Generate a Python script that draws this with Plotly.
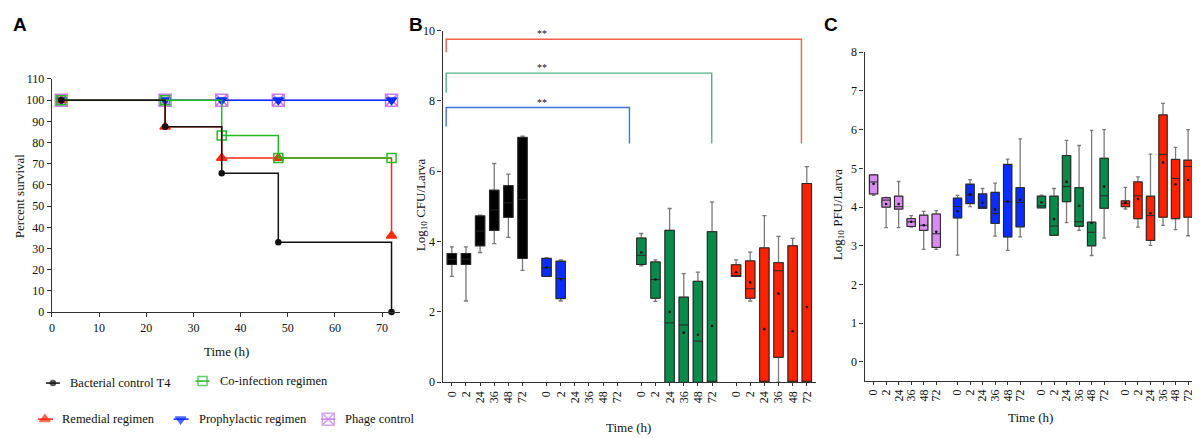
import plotly.graph_objects as go

# ---------------- Panel A : survival data ----------------
time_pts = [2, 24, 36, 48, 72]
surv_bacterial = [100, 87.5, 65.5, 33, 0]
surv_remedial = [100, 87.5, 72.7, 72.7, 36]
surv_coinfection = [100, 100, 83.3, 72.7, 72.7]
surv_prophylactic = [100, 100, 100, 100, 100]
surv_phage = [100, 100, 100, 100, 100]

legend_names = ["Bacterial control T4", "Co-infection regimen", "Remedial regimen",
                "Prophylactic regimen", "Phage control"]

# ---------------- Panel B / C tick labels ----------------
time_labels = ["0", "2", "24", "36", "48", "72"]

# ---------------- Panel B : Log10 CFU/Larva ----------------
b_black_q1 = [3.35, 3.35, 3.88, 4.32, 4.69, 3.52]
b_black_med = [3.50, 3.50, 4.30, 4.90, 5.10, 5.20]
b_black_q3 = [3.66, 3.66, 4.73, 5.46, 5.59, 6.96]
b_black_lo = [3.01, 2.31, 3.69, 3.94, 4.12, 3.18]
b_black_hi = [3.85, 3.85, 4.75, 6.22, 5.92, 7.00]

b_blue_times = [0, 1]
b_blue_q1 = [3.01, 2.38]
b_blue_med = [3.26, 2.95]
b_blue_q3 = [3.52, 3.44]
b_blue_lo = [3.01, 2.31]
b_blue_hi = [3.54, 3.48]
b_blue_mean = [3.26, 2.93]

b_green_q1 = [3.35, 2.39, 0, 0, 0, 0]
b_green_med = [3.61, 2.92, 1.69, 1.63, 1.17, 0]
b_green_q3 = [4.10, 3.42, 4.32, 2.42, 2.87, 4.28]
b_green_lo = [3.31, 2.30, 0, 0, 0, 0]
b_green_hi = [4.23, 3.48, 4.94, 3.09, 3.13, 5.13]
b_green_mean = [3.69, 2.92, 2.00, 1.41, 1.35, 1.60]

b_red_q1 = [3.01, 2.39, 0, 0.71, 0, 0]
b_red_med = [3.02, 2.66, 0, 3.17, 0, 0]
b_red_q3 = [3.34, 3.45, 3.82, 3.40, 3.88, 5.65]
b_red_lo = [3.01, 2.31, 0, 0, 0, 0]
b_red_hi = [3.48, 3.70, 4.74, 4.15, 4.09, 6.13]
b_red_mean = [3.13, 2.84, 1.51, 2.52, 1.45, 2.14]

# significance brackets (left x, right x, top y, left-leg bottom, right-leg bottom)
sig_left_x = [-0.40, -0.40, -0.40]
sig_right_x = [12.56, 18.38, 24.72]
sig_top_y = [7.81, 8.79, 9.75]
sig_left_bottom = [7.27, 8.23, 9.38]
sig_right_bottom = [6.79, 6.79, 6.79]
sig_label = ["**", "**", "**"]
sig_label_x = 6.41

# ---------------- Panel C : Log10 PFU/Larva ----------------
c_purple_q1 = [4.34, 4.00, 3.95, 3.50, 3.40, 2.96]
c_purple_med = [4.65, 4.18, 4.01, 3.62, 3.53, 3.31]
c_purple_q3 = [4.83, 4.24, 4.28, 3.70, 3.79, 3.82]
c_purple_lo = [4.30, 3.47, 3.47, 3.48, 2.91, 2.91]
c_purple_hi = [4.84, 4.25, 4.66, 3.78, 3.89, 3.91]
c_purple_mean = [4.60, 4.08, 4.08, 3.62, 3.53, 3.36]

c_blue_q1 = [3.72, 4.09, 3.97, 3.58, 3.23, 3.49]
c_blue_med = [4.01, 4.31, 3.98, 3.83, 4.14, 4.12]
c_blue_q3 = [4.23, 4.59, 4.34, 4.38, 5.10, 4.50]
c_blue_lo = [2.76, 4.01, 3.97, 3.25, 2.88, 3.23]
c_blue_hi = [4.30, 4.71, 4.48, 4.62, 5.24, 5.76]
c_blue_mean = [3.89, 4.33, 4.11, 3.94, 4.14, 4.19]

c_green_q1 = [3.98, 3.27, 4.14, 3.50, 3.00, 3.97]
c_green_med = [4.03, 3.51, 4.53, 3.62, 3.35, 4.29]
c_green_q3 = [4.28, 4.28, 5.33, 4.50, 3.61, 5.26]
c_green_lo = [3.98, 3.27, 3.60, 3.40, 2.75, 3.20]
c_green_hi = [4.31, 4.48, 5.72, 5.59, 5.98, 6.00]
c_green_mean = [4.12, 3.69, 4.65, 4.03, 3.59, 4.53]

c_red_q1 = [4.01, 3.70, 3.14, 3.74, 3.70, 3.74]
c_red_med = [4.09, 4.29, 3.78, 5.36, 4.74, 5.05]
c_red_q3 = [4.16, 4.65, 4.28, 6.38, 5.23, 5.21]
c_red_lo = [3.95, 3.48, 3.01, 3.53, 3.42, 3.26]
c_red_hi = [4.51, 4.78, 5.37, 6.68, 5.54, 6.00]
c_red_mean = [4.12, 4.21, 3.84, 5.15, 4.59, 4.70]

# ---------------- page geometry ----------------
# figure sits 8px from the page's left edge; vertically it appears from ~15px, scaled ~0.966
FW, FH = 1200, 438
X_OFF = 8
Y_OFF, Y_SCALE = 15.2, 0.966


def fig_y(py):
    return (py - Y_OFF) / Y_SCALE


def PX(px):
    return (px - X_OFF) / FW


def PY(py):
    return 1 - fig_y(py) / FH


# ---------------- styling ----------------
SERIF = "Liberation Serif"
SANS = "Liberation Sans"
C_BLACK = "#000000"
C_BLUE = "#0A2CFF"
C_GREEN_A = "#22BB22"
C_GREEN = "#078A4A"
C_RED = "#FF2200"
C_RED_A = "#FF2A10"
C_PURPLE = "#DA8BF0"
C_PURPLE_A = "#C77DE8"
BRACKET_COLORS = ["#4A6FE3", "#52B08A", "#F0604A"]
GROUP_OFFSET = 6.7
BOX_W = 0.66

fig = go.Figure()


def positions(group, idxs=range(6)):
    return [group * GROUP_OFFSET + i for i in idxs]


def add_boxes(ax, pos, q1, med, q3, lo, hi, fill, mean=None):
    xa, ya = ax
    fig.add_trace(go.Box(x=pos, q1=q1, median=med, q3=q3, lowerfence=lo, upperfence=hi,
                         orientation="v",
                         fillcolor=fill, line=dict(color="#7a7a7a", width=1.3),
                         whiskerwidth=0.45, width=BOX_W, boxpoints=False,
                         xaxis=xa, yaxis=ya, showlegend=False, hoverinfo="skip"))
    fig.add_trace(go.Box(x=pos, q1=q1, median=med, q3=q3, lowerfence=q1, upperfence=q3,
                         orientation="v",
                         fillcolor=fill, line=dict(color="#262626", width=1.0),
                         whiskerwidth=0, width=BOX_W, boxpoints=False,
                         xaxis=xa, yaxis=ya, showlegend=False, hoverinfo="skip"))
    if mean is not None:
        fig.add_trace(go.Scatter(x=pos, y=mean, mode="markers",
                                 marker=dict(size=2.6, color="#111111"),
                                 xaxis=xa, yaxis=ya, showlegend=False, hoverinfo="skip"))


# ---------------- Panel A traces ----------------
surv_series = [
    (surv_phage, C_PURPLE_A, "square-x-open", 12, 1.2),
    (surv_prophylactic, C_BLUE, "triangle-down", 9, 1.5),
    (surv_remedial, C_RED_A, "triangle-up", 9, 1.5),
    (surv_coinfection, C_GREEN_A, "square-open", 9, 1.5),
    (surv_bacterial, "#111111", "circle", 5, 1.5),
]
for ys, col, sym, sz, lw in surv_series:
    fig.add_trace(go.Scatter(x=time_pts, y=ys, mode="lines+markers", line_shape="hv",
                             line=dict(color=col, width=lw),
                             marker=dict(symbol=sym, size=sz, color=col,
                                         line=dict(color=col, width=1.5)),
                             xaxis="x", yaxis="y", showlegend=False, cliponaxis=False))

# ---------------- Panel B traces ----------------
axB = ("x2", "y2")
add_boxes(axB, positions(0), b_black_q1, b_black_med, b_black_q3, b_black_lo, b_black_hi, C_BLACK)
add_boxes(axB, positions(1, b_blue_times), b_blue_q1, b_blue_med, b_blue_q3, b_blue_lo, b_blue_hi,
          C_BLUE, b_blue_mean)
add_boxes(axB, positions(2), b_green_q1, b_green_med, b_green_q3, b_green_lo, b_green_hi,
          C_GREEN, b_green_mean)
add_boxes(axB, positions(3), b_red_q1, b_red_med, b_red_q3, b_red_lo, b_red_hi,
          C_RED, b_red_mean)

# ---------------- Panel C traces ----------------
axC = ("x3", "y3")
add_boxes(axC, positions(0), c_purple_q1, c_purple_med, c_purple_q3, c_purple_lo, c_purple_hi,
          C_PURPLE, c_purple_mean)
add_boxes(axC, positions(1), c_blue_q1, c_blue_med, c_blue_q3, c_blue_lo, c_blue_hi,
          C_BLUE, c_blue_mean)
add_boxes(axC, positions(2), c_green_q1, c_green_med, c_green_q3, c_green_lo, c_green_hi,
          C_GREEN, c_green_mean)
add_boxes(axC, positions(3), c_red_q1, c_red_med, c_red_q3, c_red_lo, c_red_hi,
          C_RED, c_red_mean)

# ---------------- custom legend for panel A ----------------
legend_layout = [  # (line x0, marker x, line x1, y, text x) in picture pixels
    (43, 50, 57, 382.5, 65),
    (193, 200, 207, 380.5, 216),
    (35, 42, 50, 418.5, 57),
    (171, 178, 186, 418.5, 194),
    (319, 326, 333, 418.5, 341),
]
legend_style = [
    ("#111111", "circle", 5),
    (C_GREEN_A, "square-open", 9),
    (C_RED_A, "triangle-up", 9),
    (C_BLUE, "triangle-down", 9),
    (C_PURPLE_A, "square-x-open", 12),
]
annotations = []
for name, (x0, xm, x1, yy, tx), (col, sym, sz) in zip(legend_names, legend_layout, legend_style):
    fig.add_trace(go.Scatter(x=[PX(x0), PX(xm), PX(x1)], y=[PY(yy)] * 3, mode="lines+markers",
                             line=dict(color=col, width=1.5),
                             marker=dict(symbol=sym, size=[0, sz, 0], color=col,
                                         line=dict(color=col, width=1.5)),
                             xaxis="x4", yaxis="y4", showlegend=False, hoverinfo="skip",
                             cliponaxis=False))
    annotations.append(dict(x=PX(tx), y=PY(yy), xref="paper", yref="paper", text=name,
                            showarrow=False, xanchor="left", yanchor="middle",
                            font=dict(family=SERIF, size=12.5, color="#111")))

# ---------------- brackets in panel B ----------------
shapes = []
for lx, rx, ty, lb, rb, col in zip(sig_left_x, sig_right_x, sig_top_y, sig_left_bottom,
                                   sig_right_bottom, BRACKET_COLORS):
    shapes.append(dict(type="path", xref="x2", yref="y2",
                       path=f"M {lx},{lb} L {lx},{ty} L {rx},{ty} L {rx},{rb}",
                       line=dict(color=col, width=1.4)))
for ty, lab in zip(sig_top_y, sig_label):
    annotations.append(dict(x=sig_label_x, y=ty, xref="x2", yref="y2", text=lab,
                            showarrow=False, yanchor="bottom", yshift=-2,
                            font=dict(family=SERIF, size=10, color="#111")))

# panel letters (placed at the very top of the figure)
for letter, px in [("A", 8.5), ("B", 405), ("C", 821)]:
    annotations.append(dict(x=PX(px), y=1.0, xref="paper", yref="paper", text=f"<b>{letter}</b>",
                            showarrow=False, xanchor="left", yanchor="top", yshift=3,
                            font=dict(family=SANS, size=19, color="#000")))

# axis titles
axis_titles = [
    ("Percent survival", 16, 195, -90),
    ("Time (h)", 224, 351, 0),
    ("Log<sub>10</sub> CFU/Larva", 419, 204, -90),
    ("Time (h)", 627, 427, 0),
    ("Log<sub>10</sub> PFU/Larva", 837, 214, -90),
    ("Time (h)", 1030, 417, 0),
]
for txt, px, py, ang in axis_titles:
    annotations.append(dict(x=PX(px), y=PY(py), xref="paper", yref="paper", text=txt,
                            showarrow=False, xanchor="center", yanchor="middle", textangle=ang,
                            font=dict(family=SERIF, size=13, color="#111")))

axis_common = dict(showline=True, linecolor="#333333", linewidth=1.3, ticks="outside",
                   ticklen=4, tickwidth=1.2, tickcolor="#333333", showgrid=False,
                   zeroline=False, tickfont=dict(family=SERIF, size=12, color="#111"))

ticks_bc = [g * GROUP_OFFSET + i for g in range(4) for i in range(6)]
labels_bc = time_labels * 4
last_tick = 3 * GROUP_OFFSET + 5

fig.update_layout(
    width=FW, height=FH, margin=dict(l=0, r=0, t=0, b=0), autosize=False,
    font=dict(family=SERIF, size=12, color="#111"),
    paper_bgcolor="white", plot_bgcolor="rgba(0,0,0,0)", showlegend=False,
    xaxis=dict(domain=[PX(49), PX(398)], range=[0, 73.8], anchor="y",
               tickvals=list(range(0, 71, 10)), **axis_common),
    yaxis=dict(domain=[PY(311.7), PY(79)], range=[0, 110], anchor="x",
               tickvals=list(range(0, 111, 10)), **axis_common),
    xaxis2=dict(domain=[PX(440.7), PX(815)], range=[-0.65, last_tick + 0.65], anchor="y2",
                tickvals=ticks_bc, ticktext=labels_bc, tickangle=-90, **{**axis_common, "ticklen": 3}),
    yaxis2=dict(domain=[PY(381.7), PY(30.7)], range=[0, 10], anchor="x2",
                tickvals=[0, 2, 4, 6, 8, 10], **axis_common),
    xaxis3=dict(domain=[PX(863.7), PX(1196.7)], range=[-0.72, last_tick + 0.69], anchor="y3",
                tickvals=ticks_bc, ticktext=labels_bc, tickangle=-90, **{**axis_common, "ticklen": 3}),
    yaxis3=dict(domain=[PY(380), PY(52.3)], range=[-0.48, 8], anchor="x3",
                tickvals=list(range(0, 9)), **axis_common),
    xaxis4=dict(domain=[0, 1], range=[0, 1], visible=False, anchor="y4", fixedrange=True),
    yaxis4=dict(domain=[0, 1], range=[0, 1], visible=False, anchor="x4", fixedrange=True),
    boxmode="overlay",
    shapes=shapes,
    annotations=annotations,
)

fig.write_html("out.html")
